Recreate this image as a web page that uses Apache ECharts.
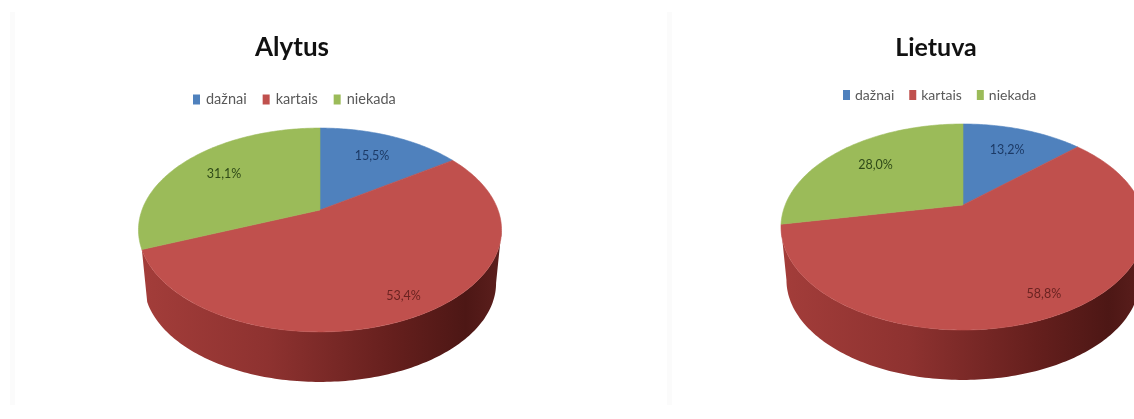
<!DOCTYPE html>
<html>
<head>
<meta charset="utf-8">
<style>
html,body{margin:0;padding:0;background:#fff;}
#chart{width:1134px;height:419px;filter:blur(0.6px);}
</style>
<script src="https://cdn.jsdelivr.net/npm/echarts@6/dist/echarts.min.js"></script>
</head>
<body>
<div id="chart"></div>
<script>
const categories = ['dažnai', 'kartais', 'niekada'];
const alytusValues = [15.5, 53.4, 31.1];
const lietuvaValues = [13.2, 58.8, 28.0];
const colors = ['#4f81bd', '#c0504d', '#9bbb59'];
const labelColors = ['#1c3a66', '#6a2321', '#2f4a18'];
const labelRadius = [0.7, 0.85, 0.7];

// Perspective disc: apex (cx,cy), a/b radii, k perspective strength
const pies = [
  { values: alytusValues, cx: 320, cy: 210, a: 178, b: 98, k: 0.196 },
  { values: lietuvaValues, cx: 963, cy: 205, a: 177.8, b: 98.3, k: 0.2136 }
];
const sideDrop = 53.7, sideScale = 0.97;
const sideStops = [
  { offset: 0, color: '#a33d3a' },
  { offset: 0.35, color: '#8e3230' },
  { offset: 0.7, color: '#651f1d' },
  { offset: 0.9, color: '#4d1715' },
  { offset: 1, color: '#5c1f1d' }
];

function project(p, r, theta) {
  const u = Math.sin(theta), v = -Math.cos(theta);
  const w = 1 - p.k * r * v;
  return [p.cx + p.a * r * u / w, p.cy + p.b * r * v / w];
}

function makeRender(p, catIndex) {
  return function (params, api) {
    const val = api.value(0), start = api.value(1);
    const t0 = start / 100 * 2 * Math.PI, t1 = (start + val) / 100 * 2 * Math.PI;
    const n = Math.max(2, Math.ceil((t1 - t0) / (Math.PI / 180)));
    const rim = [];
    for (let i = 0; i <= n; i++) rim.push(project(p, 1, t0 + (t1 - t0) * i / n));

    const children = [];
    // visible side wall: part of the rim between the horizontal extremes
    const tR = Math.acos(-p.k), tL = 2 * Math.PI - tR;
    const s0 = Math.max(t0, tR), s1 = Math.min(t1, tL);
    if (s1 - s0 > 1) {
      const upper = [], lower = [];
      const m = Math.max(2, Math.ceil((s1 - s0) / (Math.PI / 180)));
      for (let i = 0; i <= m; i++) {
        const q = project(p, 1, s0 + (s1 - s0) * i / m);
        upper.push(q);
        lower.push([p.cx + (q[0] - p.cx) * sideScale, p.cy + (q[1] - p.cy) * sideScale + sideDrop]);
      }
      children.push({
        type: 'polygon',
        shape: { points: upper.concat(lower.reverse()) },
        style: { fill: { type: 'linear', x: 0, y: 0, x2: 1, y2: 0, colorStops: sideStops } }
      });
    }
    // top face
    children.push({
      type: 'polygon',
      shape: { points: [[p.cx, p.cy]].concat(rim) },
      style: { fill: colors[catIndex], stroke: colors[catIndex], lineWidth: 0.6 }
    });
    // value label
    const mid = project(p, labelRadius[catIndex], (t0 + t1) / 2);
    children.push({
      type: 'text',
      x: mid[0], y: mid[1],
      style: {
        text: val.toFixed(1).replace('.', ',') + '%',
        x: 0, y: 0,
        align: 'center', verticalAlign: 'middle',
        font: '12.5px Lato, "Open Sans", sans-serif',
        fill: labelColors[catIndex]
      }
    });
    return { type: 'group', children: children };
  };
}

const series = [];
pies.forEach(p => {
  let cum = 0;
  categories.forEach((name, i) => {
    series.push({
      type: 'custom',
      name: name,
      coordinateSystem: 'none',
      itemStyle: { color: colors[i] },
      silent: true,
      animation: false,
      renderItem: makeRender(p, i),
      data: [[p.values[i], cum]]
    });
    cum += p.values[i];
  });
});

const legendText = { fontFamily: 'Lato, "Open Sans", sans-serif', fontSize: 14.5, color: '#595959' };
const titleText = { fontFamily: 'Lato, sans-serif', fontWeight: 'bold', fontSize: 26, color: '#111' };
const option = {
  backgroundColor: '#ffffff',
  animation: false,
  title: [
    { text: 'Alytus', left: 287, top: 30, textAlign: 'center', textStyle: titleText },
    { text: 'Lietuva', left: 931, top: 30, textAlign: 'center', textStyle: Object.assign({}, titleText, { fontSize: 25 }) }
  ],
  legend: [
    { data: categories, left: 188, top: 87, icon: 'rect', itemWidth: 7, itemHeight: 10, itemGap: 16, textStyle: Object.assign({ padding: [0, 0, 0, 1] }, legendText), selectedMode: false },
    { data: categories, left: 838, top: 83, icon: 'rect', itemWidth: 7, itemHeight: 10, itemGap: 15, textStyle: Object.assign({}, legendText, { fontSize: 14 }), selectedMode: false }
  ],
  graphic: [
    { type: 'rect', shape: { x: 10, y: 12, width: 5, height: 393 }, style: { fill: '#fbfbfb' }, silent: true, z: -1 },
    { type: 'rect', shape: { x: 667, y: 12, width: 5, height: 393 }, style: { fill: '#fbfbfb' }, silent: true, z: -1 }
  ],
  series: series
};
const chart = echarts.init(document.getElementById('chart'));
chart.setOption(option);
</script>
</body>
</html>
